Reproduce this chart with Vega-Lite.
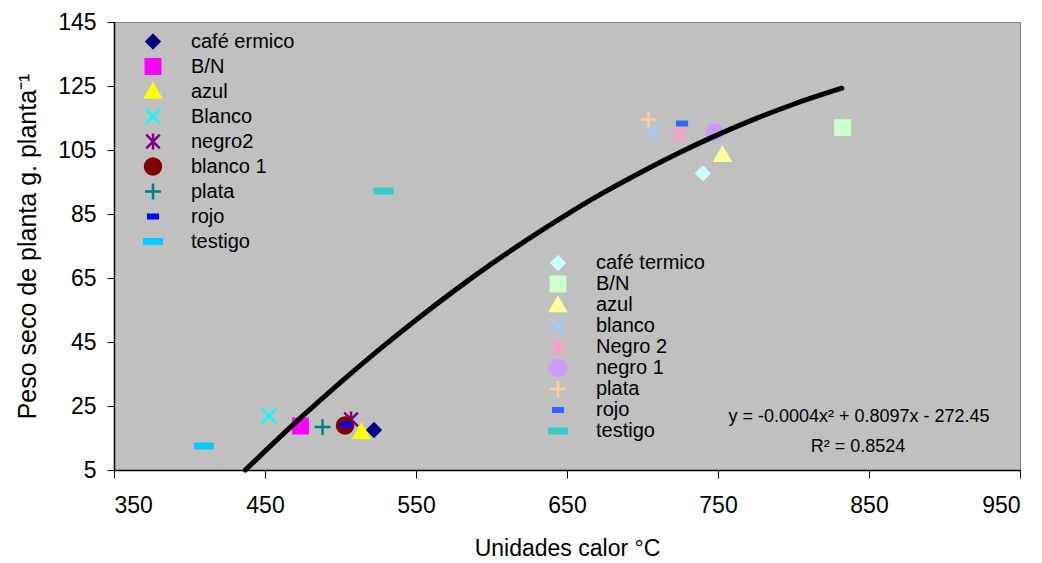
{
  "$schema": "https://vega.github.io/schema/vega-lite/v6.json",
  "autosize": {"type": "none"},
  "padding": {"left": 114, "top": 22, "right": 22, "bottom": 93},
  "width": 906,
  "height": 448,
  "background": "white",
  "config": {
    "view": {"fill": "#C0C0C0", "stroke": "#808080", "strokeWidth": 1},
    "font": "Liberation Sans",
    "axis": {
      "grid": false,
      "domainColor": "black",
      "domainWidth": 1.5,
      "tickColor": "black",
      "tickSize": 7,
      "labelFont": "Liberation Sans",
      "labelFontSize": 23,
      "labelColor": "black",
      "titleFont": "Liberation Sans",
      "titleFontSize": 23,
      "titleFontWeight": "normal",
      "titleColor": "black"
    }
  },
  "datasets": {
    "set1": [
      {"uc": 522.2, "peso": 17.5, "serie": "café ermico"},
      {"uc": 473.5, "peso": 18.75, "serie": "B/N"},
      {"uc": 513.9, "peso": 16.9, "serie": "azul"},
      {"uc": 452.6, "peso": 21.9, "serie": "Blanco"},
      {"uc": 507.0, "peso": 20.8, "serie": "negro2"},
      {"uc": 503.0, "peso": 18.9, "serie": "blanco 1"},
      {"uc": 488.1, "peso": 18.4, "serie": "plata"},
      {"uc": 504.0, "peso": 19.2, "serie": "rojo"},
      {"uc": 409.6, "peso": 12.5, "serie": "testigo"}
    ],
    "set2": [
      {"uc": 740.0, "peso": 97.7, "serie": "café termico"},
      {"uc": 832.5, "peso": 112.0, "serie": "B/N"},
      {"uc": 753.0, "peso": 103.5, "serie": "azul"},
      {"uc": 707.0, "peso": 110.6, "serie": "blanco"},
      {"uc": 724.8, "peso": 109.8, "serie": "Negro 2"},
      {"uc": 748.0, "peso": 110.6, "serie": "negro 1"},
      {"uc": 704.0, "peso": 114.5, "serie": "plata"},
      {"uc": 726.2, "peso": 113.3, "serie": "rojo"},
      {"uc": 528.5, "peso": 92.2, "serie": "testigo"}
    ],
    "curve": [
      {"uc": 437, "peso": 5.0},
      {"uc": 450, "peso": 10.9},
      {"uc": 475, "peso": 21.9},
      {"uc": 500, "peso": 32.4},
      {"uc": 525, "peso": 42.4},
      {"uc": 550, "peso": 51.9},
      {"uc": 575, "peso": 60.9},
      {"uc": 600, "peso": 69.4},
      {"uc": 625, "peso": 77.4},
      {"uc": 650, "peso": 84.9},
      {"uc": 675, "peso": 91.9},
      {"uc": 700, "peso": 98.3},
      {"uc": 725, "peso": 104.3},
      {"uc": 750, "peso": 109.8},
      {"uc": 775, "peso": 114.8},
      {"uc": 800, "peso": 119.3},
      {"uc": 832, "peso": 124.3}
    ],
    "eq": [
      {"uc": 843.4, "peso": 21.6, "label": "y = -0.0004x² + 0.8097x - 272.45"},
      {"uc": 842.7, "peso": 12.2, "label": "R² = 0.8524"}
    ]
  },
  "encoding": {
    "x": {
      "field": "uc", "type": "quantitative",
      "scale": {"domain": [350, 950], "nice": false, "zero": false},
      "axis": {"values": [350, 450, 550, 650, 750, 850, 950], "title": "Unidades calor °C", "tickSize": 8, "labelPadding": 16, "titlePadding": 20}
    },
    "y": {
      "field": "peso", "type": "quantitative",
      "scale": {"domain": [5, 145], "nice": false, "zero": false},
      "axis": {"values": [5, 25, 45, 65, 85, 105, 125, 145], "title": "Peso seco de planta g. planta⁻¹", "titleFontSize": 25, "labelPadding": 11, "titlePadding": 17}
    }
  },
  "layer": [
    {
      "data": {"name": "set1"},
      "mark": {"type": "point", "filled": true, "size": 256, "strokeWidth": 2.5, "opacity": 1},
      "encoding": {
        "fill": {
          "field": "serie", "type": "nominal",
          "scale": {"domain": ["café ermico", "B/N", "azul", "Blanco", "negro2", "blanco 1", "plata", "rojo", "testigo"],
                    "range": ["#000080", "#FF00FF", "#FFFF00", "#00FFFF", "#800080", "#800000", "#008080", "#0000FF", "#00CCFF"]},
          "legend": {"orient": "none", "legendX": 29, "legendY": 7, "title": null, "padding": 0, "labelFont": "Liberation Sans", "labelFontSize": 20, "labelColor": "black", "labelOffset": 28, "rowPadding": 0, "clipHeight": 25, "symbolSize": 256, "symbolStrokeWidth": 2.5, "symbolOpacity": 1}
        },
        "stroke": {
          "field": "serie", "type": "nominal",
          "scale": {"domain": ["café ermico", "B/N", "azul", "Blanco", "negro2", "blanco 1", "plata", "rojo", "testigo"],
                    "range": ["#000080", "#FF00FF", "#FFFF00", "#00FFFF", "#800080", "#800000", "#008080", "#0000FF", "#00CCFF"]},
          "legend": {"orient": "none", "legendX": 29, "legendY": 7, "title": null, "padding": 0, "labelFont": "Liberation Sans", "labelFontSize": 20, "labelColor": "black", "labelOffset": 28, "rowPadding": 0, "clipHeight": 25, "symbolSize": 256, "symbolStrokeWidth": 2.5, "symbolOpacity": 1}
        },
        "shape": {
          "field": "serie", "type": "nominal",
          "scale": {"domain": ["café ermico", "B/N", "azul", "Blanco", "negro2", "blanco 1", "plata", "rojo", "testigo"],
                    "range": ["M0,-0.8L0.8,0L0,0.8L-0.8,0Z", "M-0.9,-0.9L0.9,-0.9L0.9,0.9L-0.9,0.9Z", "M0,-0.9L0.95,0.75L-0.95,0.75Z", "M-0.9,-0.9L0.9,0.9M-0.9,0.9L0.9,-0.9", "M-0.85,-0.85L0.85,0.85M-0.85,0.85L0.85,-0.85M0,-1L0,1", "circle", "M-1,0L1,0M0,-1L0,1", "M-0.6,-0.22L0.6,-0.22L0.6,0.22L-0.6,0.22Z", "M-1.1,-0.28L1.1,-0.28L1.1,0.28L-1.1,0.28Z"]},
          "legend": {"orient": "none", "legendX": 29, "legendY": 7, "title": null, "padding": 0, "labelFont": "Liberation Sans", "labelFontSize": 20, "labelColor": "black", "labelOffset": 28, "rowPadding": 0, "clipHeight": 25, "symbolSize": 256, "symbolStrokeWidth": 2.5, "symbolOpacity": 1}
        }
      }
    },
    {
      "data": {"name": "set2"},
      "mark": {"type": "point", "filled": true, "size": 256, "strokeWidth": 2.5, "opacity": 1},
      "encoding": {
        "fill": {
          "field": "serie", "type": "nominal",
          "scale": {"domain": ["café termico", "B/N", "azul", "blanco", "Negro 2", "negro 1", "plata", "rojo", "testigo"],
                    "range": ["#CCFFFF", "#CCFFCC", "#FFFF99", "#99CCFF", "#FF99CC", "#CC99FF", "#FFCC99", "#3366FF", "#33CCCC"]},
          "legend": {"orient": "none", "legendX": 434, "legendY": 230.5, "title": null, "padding": 0, "labelFont": "Liberation Sans", "labelFontSize": 20, "labelColor": "black", "labelOffset": 28, "rowPadding": 0, "clipHeight": 21, "symbolSize": 256, "symbolStrokeWidth": 2.5, "symbolOpacity": 1}
        },
        "stroke": {
          "field": "serie", "type": "nominal",
          "scale": {"domain": ["café termico", "B/N", "azul", "blanco", "Negro 2", "negro 1", "plata", "rojo", "testigo"],
                    "range": ["#CCFFFF", "#CCFFCC", "#FFFF99", "#99CCFF", "#FF99CC", "#CC99FF", "#FFCC99", "#3366FF", "#33CCCC"]},
          "legend": {"orient": "none", "legendX": 434, "legendY": 230.5, "title": null, "padding": 0, "labelFont": "Liberation Sans", "labelFontSize": 20, "labelColor": "black", "labelOffset": 28, "rowPadding": 0, "clipHeight": 21, "symbolSize": 256, "symbolStrokeWidth": 2.5, "symbolOpacity": 1}
        },
        "shape": {
          "field": "serie", "type": "nominal",
          "scale": {"domain": ["café termico", "B/N", "azul", "blanco", "Negro 2", "negro 1", "plata", "rojo", "testigo"],
                    "range": ["M0,-0.8L0.8,0L0,0.8L-0.8,0Z", "M-0.9,-0.9L0.9,-0.9L0.9,0.9L-0.9,0.9Z", "M0,-0.9L0.95,0.75L-0.95,0.75Z", "M-0.9,-0.9L0.9,0.9M-0.9,0.9L0.9,-0.9", "M-0.85,-0.85L0.85,0.85M-0.85,0.85L0.85,-0.85M0,-1L0,1", "circle", "M-1,0L1,0M0,-1L0,1", "M-0.6,-0.22L0.6,-0.22L0.6,0.22L-0.6,0.22Z", "M-1.1,-0.28L1.1,-0.28L1.1,0.28L-1.1,0.28Z"]},
          "legend": {"orient": "none", "legendX": 434, "legendY": 230.5, "title": null, "padding": 0, "labelFont": "Liberation Sans", "labelFontSize": 20, "labelColor": "black", "labelOffset": 28, "rowPadding": 0, "clipHeight": 21, "symbolSize": 256, "symbolStrokeWidth": 2.5, "symbolOpacity": 1}
        }
      }
    },
    {
      "data": {"name": "curve"},
      "mark": {"type": "line", "color": "black", "strokeWidth": 5, "interpolate": "monotone", "strokeCap": "round"},
      "encoding": {}
    },
    {
      "data": {"name": "eq"},
      "mark": {"type": "text", "font": "Liberation Sans", "fontSize": 18, "color": "black", "align": "center", "baseline": "middle"},
      "encoding": {"text": {"field": "label", "type": "nominal"}}
    }
  ],
  "resolve": {"scale": {"fill": "independent", "stroke": "independent", "shape": "independent"}}
}
